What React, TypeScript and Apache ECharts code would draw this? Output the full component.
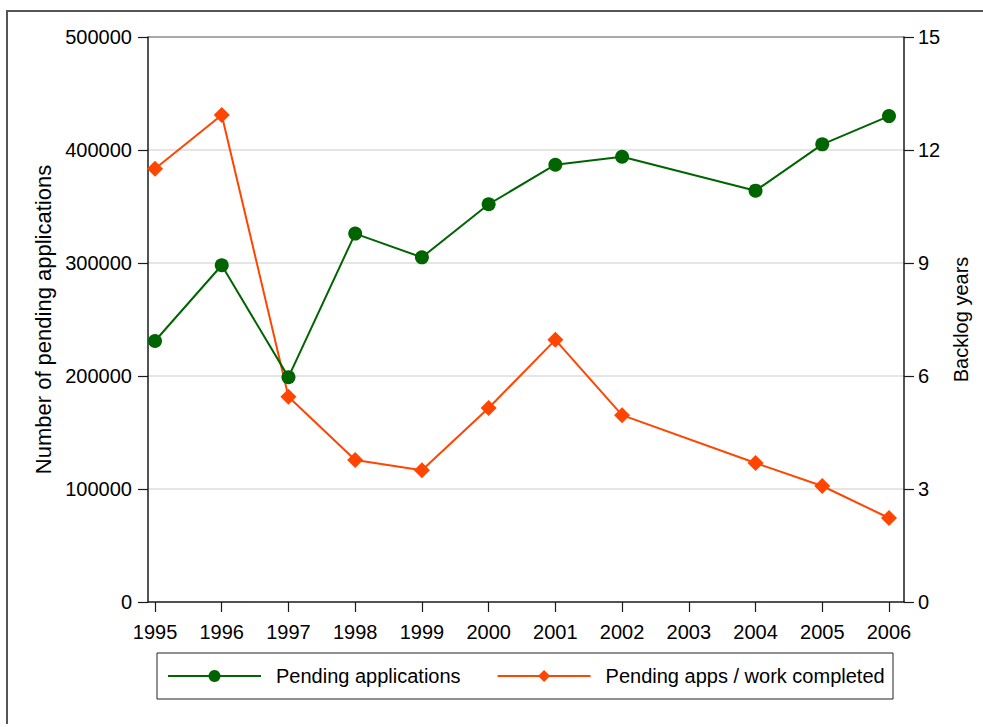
import React, { useEffect, useRef } from "react";
import * as echarts from "echarts";

const years = [1995, 1996, 1997, 1998, 1999, 2000, 2001, 2002, 2004, 2005, 2006];
const pendingApplications = [231000, 298000, 199000, 326000, 305000, 352000, 387000, 394000, 364000, 405000, 430000];
const backlogYears = [11.5, 12.93, 5.45, 3.77, 3.5, 5.15, 6.96, 4.96, 3.69, 3.08, 2.23];
const yearTicks = [1995, 1996, 1997, 1998, 1999, 2000, 2001, 2002, 2003, 2004, 2005, 2006];

const FONT = "'Liberation Sans', Arial, Helvetica, sans-serif";
const GREEN = "#006400";
const ORANGE = "#ff4500";
const AXIS = "#1a1a1a";

export default function App() {
  const ref = useRef<HTMLDivElement>(null);
  useEffect(() => {
    if (!ref.current) return;
    const chart = echarts.init(ref.current, undefined, { renderer: "svg" });
    const option: any = {
      animation: false,
      backgroundColor: "#ffffff",
      textStyle: { fontFamily: FONT },
      grid: { left: 148, right: 79, top: 37, bottom: 125 },
      xAxis: {
        type: "value",
        min: 1994.895,
        max: 2006.225,
        axisLine: { show: true, lineStyle: { color: AXIS, width: 1.5 } },
        axisTick: { show: true, length: 10, customValues: yearTicks, lineStyle: { color: AXIS, width: 1.2 } },
        axisLabel: {
          customValues: yearTicks,
          formatter: (v: number) => String(Math.round(v)),
          fontSize: 20,
          color: "#000",
          fontFamily: FONT,
          margin: 20,
        },
        splitLine: { show: false },
      },
      yAxis: [
        {
          type: "value",
          min: 0,
          max: 500000,
          interval: 100000,
          name: "Number of pending applications",
          nameLocation: "middle",
          nameGap: 92,
          nameTextStyle: { fontSize: 22, color: "#000", fontFamily: FONT },
          axisLine: { show: true, lineStyle: { color: AXIS, width: 1.5 } },
          axisTick: { show: true, length: 10, lineStyle: { color: AXIS, width: 1.2 } },
          axisLabel: {
            fontSize: 20,
            color: "#000",
            fontFamily: FONT,
            margin: 16,
            formatter: (v: number) => String(v),
          },
          splitLine: {
            show: true,
            lineStyle: {
              color: ["rgba(0,0,0,0)", "#dcdcdc", "#dcdcdc", "#dcdcdc", "#dcdcdc", "#8c8c8c"],
              width: 1.5,
            },
          },
        },
        {
          type: "value",
          min: 0,
          max: 15,
          interval: 3,
          position: "right",
          name: "Backlog years",
          nameLocation: "middle",
          nameGap: 47,
          nameRotate: 90,
          nameTextStyle: { fontSize: 20, color: "#000", fontFamily: FONT },
          axisLine: { show: true, lineStyle: { color: AXIS, width: 1.5 } },
          axisTick: { show: true, length: 10, lineStyle: { color: AXIS, width: 1.2 } },
          axisLabel: { fontSize: 20, color: "#000", fontFamily: FONT, margin: 14 },
          splitLine: { show: false },
        },
      ],
      legend: {
        left: 167,
        top: 666,
        padding: 0,
        itemWidth: 93,
        itemHeight: 15,
        itemGap: 36,
        textStyle: { fontSize: 20, color: "#000", fontFamily: FONT, padding: [0, 0, 0, 10] },
        data: ["Pending applications", "Pending apps / work completed"],
      },
      graphic: [
        {
          type: "polyline",
          shape: { points: [[7, 724], [7, 11], [990, 11]] },
          style: { stroke: "#555", lineWidth: 2, fill: "none" },
          silent: true,
        },
        {
          type: "rect",
          shape: { x: 157, y: 653, width: 736, height: 46 },
          style: { stroke: "#222", lineWidth: 1, fill: "none" },
          silent: true,
        },
      ],
      series: [
        {
          name: "Pending applications",
          type: "line",
          yAxisIndex: 0,
          data: years.map((y, i) => [y, pendingApplications[i]]),
          symbol: "circle",
          symbolSize: 14,
          lineStyle: { color: GREEN, width: 2 },
          itemStyle: { color: GREEN },
          z: 3,
        },
        {
          name: "Pending apps / work completed",
          type: "line",
          yAxisIndex: 1,
          data: years.map((y, i) => [y, backlogYears[i]]),
          symbol: "diamond",
          symbolSize: 16,
          lineStyle: { color: ORANGE, width: 2 },
          itemStyle: { color: ORANGE },
          z: 2,
        },
      ],
    };
    chart.setOption(option);
    return () => chart.dispose();
  }, []);
  return (
    <div
      ref={ref}
      style={{ position: "absolute", left: 0, top: 0, width: 983, height: 727 }}
    />
  );
}
